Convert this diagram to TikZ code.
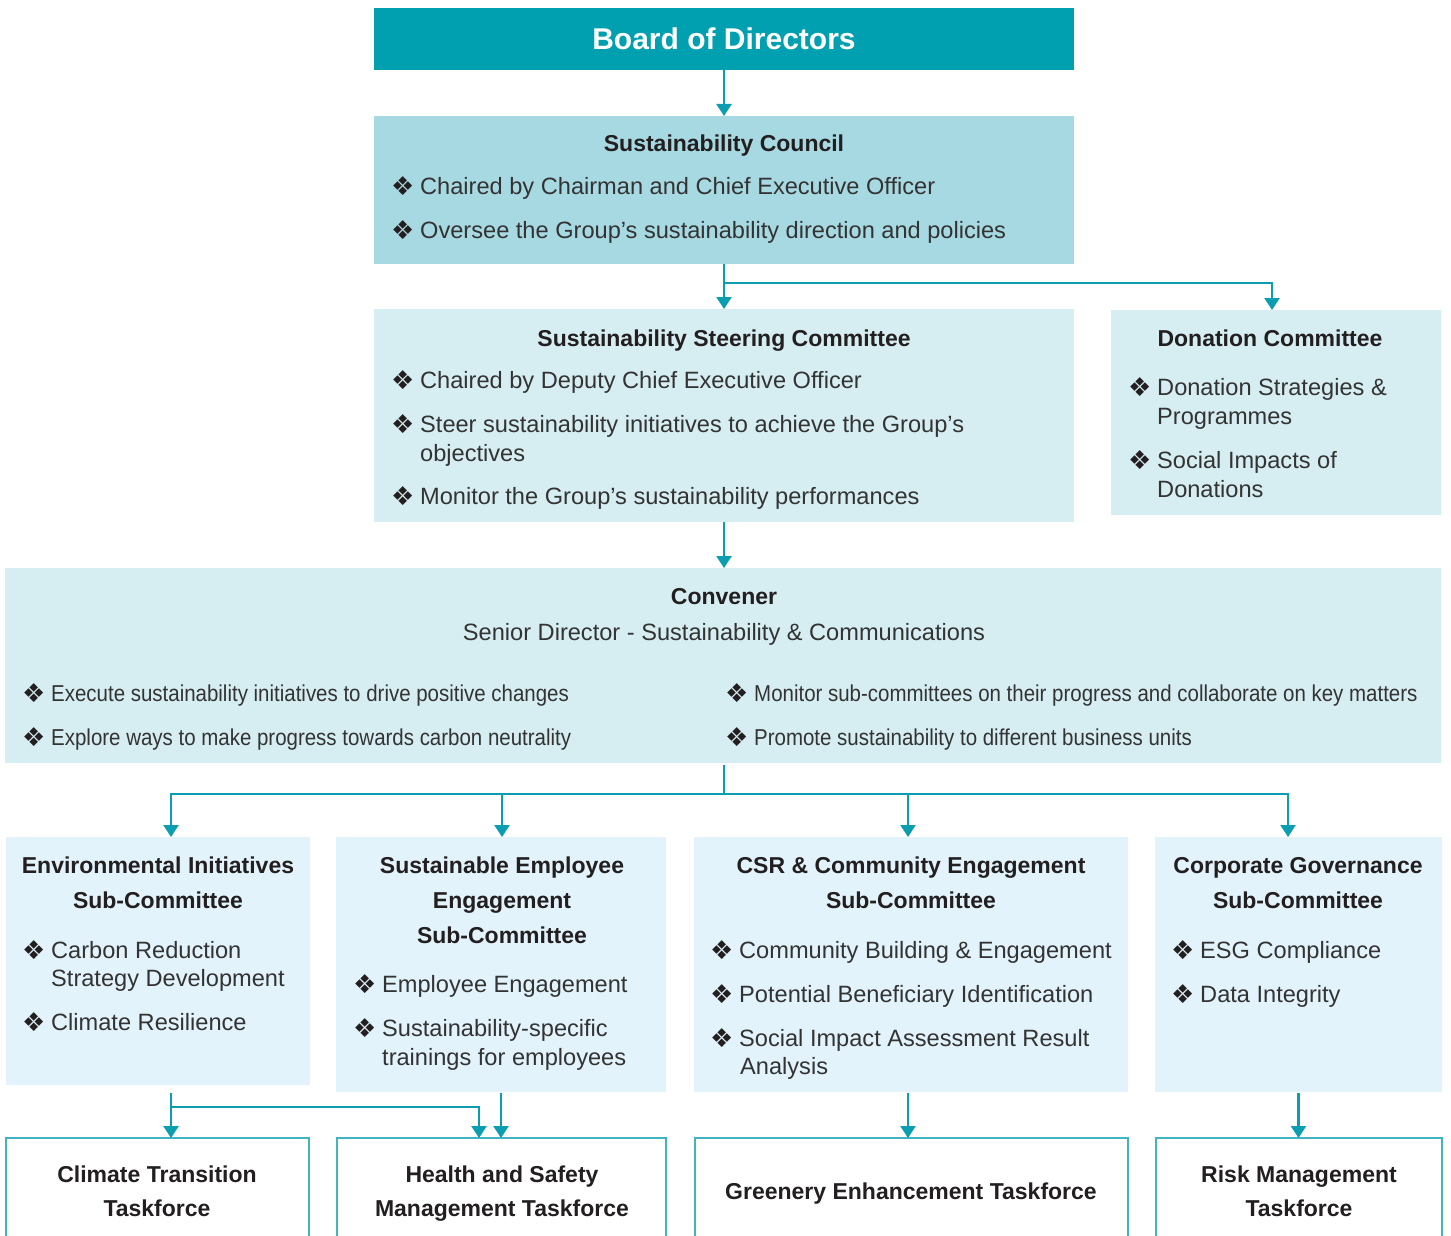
\documentclass[tikz,border=0pt]{standalone}
\usepackage{fontspec}
\usetikzlibrary{arrows.meta}
\setmainfont{Liberation Sans}
\newfontfamily\condfont[FakeStretch=0.89]{Liberation Sans}
\newfontfamily\symfont{DejaVu Sans}

\definecolor{boardfill}{HTML}{00A0B0}
\definecolor{councilfill}{HTML}{A7D9E2}
\definecolor{steerfill}{HTML}{D6EEF2}
\definecolor{subfill}{HTML}{E2F3FB}
\definecolor{linkcol}{HTML}{0A9EB0}
\definecolor{taskline}{HTML}{40B4C1}
\definecolor{ink}{HTML}{231F20}
\definecolor{bodyink}{HTML}{333333}

\newcommand{\bul}{\makebox[29pt][l]{\color{ink}\symfont\fontsize{26}{28}\selectfont\raisebox{-1pt}{❖}}}

\tikzset{
  panel/.style={anchor=north west, inner sep=0pt, outer sep=0pt, draw=none},
  taskbox/.style={anchor=north west, inner sep=0pt, outer sep=0pt, fill=white, draw=taskline, line width=1.6pt},
  arr/.style={draw=linkcol, line width=2.4pt, -{Triangle[width=15pt,length=12pt]}},
  link/.style={draw=linkcol, line width=2.4pt},
  head/.style={anchor=base, inner sep=0pt, text=ink, font=\fontsize{23}{27}\selectfont\bfseries},
  body/.style={anchor=base west, inner sep=0pt, text=bodyink, font=\fontsize{23.6}{28}\selectfont},
  cbody/.style={anchor=base west, inner sep=0pt, text=bodyink, font=\condfont\fontsize{23}{27}\selectfont},
}

\begin{document}
\begin{tikzpicture}[x=1pt,y=-1pt]
\useasboundingbox (0,0) rectangle (1451,1236);

% ---- boxes ----
\node[panel, fill=boardfill, minimum width=700pt, minimum height=62pt] (board) at (374,8) {};
\node[panel, fill=councilfill, minimum width=700pt, minimum height=148pt] (council) at (374,116) {};
\node[panel, fill=steerfill, minimum width=700pt, minimum height=213pt] (steer) at (374,309) {};
\node[panel, fill=steerfill, minimum width=330pt, minimum height=205pt] (donation) at (1111,310) {};
\node[panel, fill=steerfill, minimum width=1436pt, minimum height=195pt] (convener) at (5,568) {};
\node[panel, fill=subfill, minimum width=304pt, minimum height=248pt] (env) at (6,837) {};
\node[panel, fill=subfill, minimum width=330pt, minimum height=255pt] (see) at (336,837) {};
\node[panel, fill=subfill, minimum width=434pt, minimum height=255pt] (csr) at (694,837) {};
\node[panel, fill=subfill, minimum width=287pt, minimum height=255pt] (cg) at (1155,837) {};
\node[taskbox, minimum width=303pt, minimum height=120pt] (ct) at (6,1138) {};
\node[taskbox, minimum width=329pt, minimum height=120pt] (hs) at (337,1138) {};
\node[taskbox, minimum width=433pt, minimum height=120pt] (ge) at (695,1138) {};
\node[taskbox, minimum width=286pt, minimum height=120pt] (rm) at (1156,1138) {};

% ---- connectors ----
\draw[arr] (board.south) -- (council.north);
\draw[arr] (council.south) -- (steer.north);
\draw[arr] ([yshift=-19pt]council.south) -| ([xshift=-4pt]donation.north);
\draw[arr] (steer.south) -- (steer.south |- convener.north);
\draw[link] ([yshift=-2pt]convener.south -| steer.south) -- ++(0,29) coordinate (hub);
\draw[arr] (hub) -| ([xshift=13pt]env.north);
\draw[arr] (hub) -| ([xshift=1pt]see.north);
\draw[arr] (hub) -| ([xshift=-3pt]csr.north);
\draw[arr] (hub) -| ([xshift=-10.5pt]cg.north);
\draw[link] ([xshift=13pt,yshift=-8pt]env.south) -- ++(0,14) coordinate (envsplit);
\draw[arr] (envsplit) -- (envsplit |- ct.north);
\draw[arr] (envsplit) -| ([xshift=-22.5pt]hs.north);
\draw[arr] ([yshift=-1pt]see.south) -- (see.south |- hs.north);
\draw[arr] ([xshift=-3pt,yshift=-1pt]csr.south) -- ([xshift=-3pt]csr.south |- ge.north);
\draw[arr] ([yshift=-1pt]cg.south) -- (cg.south |- rm.north);

% ---- Board of Directors ----
\node[anchor=base, inner sep=0pt, text=white, font=\fontsize{30}{34}\selectfont\bfseries] (t-board) at (724,50) {Board of Directors};

% ---- Sustainability Council ----
\node[head] (t-council) at (724,152) {Sustainability Council};
\node[body] (council-a) at (391,194) {\bul Chaired by Chairman and Chief Executive Officer};
\node[body] (council-b) at (391,238) {\bul Oversee the Group’s sustainability direction and policies};

% ---- Steering Committee ----
\node[head] (t-steer) at (724,346) {Sustainability Steering Committee};
\node[body] (steer-a) at (391,388) {\bul Chaired by Deputy Chief Executive Officer};
\node[body] (steer-b) at (391,432) {\bul Steer sustainability initiatives to achieve the Group’s};
\node[body] (steer-b2) at (420,461) {objectives};
\node[body] (steer-c) at (391,504) {\bul Monitor the Group’s sustainability performances};

% ---- Donation Committee ----
\node[head] (t-donation) at (1270,346) {Donation Committee};
\node[body] (don-a) at (1128,395) {\bul Donation Strategies \&};
\node[body] (don-a2) at (1157,424) {Programmes};
\node[body] (don-b) at (1128,468) {\bul Social Impacts of};
\node[body] (don-b2) at (1157,497) {Donations};

% ---- Convener ----
\node[head] (t-convener) at (724,604) {Convener};
\node[anchor=base, inner sep=0pt, text=bodyink, font=\fontsize{23.6}{28}\selectfont] (t-role) at (724,640) {Senior Director - Sustainability \& Communications};
\node[cbody] (conv-a) at (22,701) {\bul Execute sustainability initiatives to drive positive changes};
\node[cbody] (conv-b) at (22,745) {\bul Explore ways to make progress towards carbon neutrality};
\node[cbody] (conv-c) at (725,701) {\bul Monitor sub-committees on their progress and collaborate on key matters};
\node[cbody] (conv-d) at (725,745) {\bul Promote sustainability to different business units};

% ---- Environmental Initiatives ----
\node[head] (t-env1) at (158,873) {Environmental Initiatives};
\node[head] (t-env2) at (158,908) {Sub-Committee};
\node[body] (env-a) at (22,958) {\bul Carbon Reduction};
\node[body] (env-a2) at (51,986) {Strategy Development};
\node[body] (env-b) at (22,1030) {\bul Climate Resilience};

% ---- Sustainable Employee Engagement ----
\node[head] (t-see1) at (502,873) {Sustainable Employee};
\node[head] (t-see2) at (502,908) {Engagement};
\node[head] (t-see3) at (502,943) {Sub-Committee};
\node[body] (see-a) at (353,992) {\bul Employee Engagement};
\node[body] (see-b) at (353,1036) {\bul Sustainability-specific};
\node[body] (see-b2) at (382,1065) {trainings for employees};

% ---- CSR & Community Engagement ----
\node[head] (t-csr1) at (911,873) {CSR \& Community Engagement};
\node[head] (t-csr2) at (911,908) {Sub-Committee};
\node[body] (csr-a) at (710,958) {\bul Community Building \& Engagement};
\node[body] (csr-b) at (710,1002) {\bul Potential Beneficiary Identification};
\node[body] (csr-c) at (710,1046) {\bul Social Impact Assessment Result};
\node[body] (csr-c2) at (740,1074) {Analysis};

% ---- Corporate Governance ----
\node[head] (t-cg1) at (1298,873) {Corporate Governance};
\node[head] (t-cg2) at (1298,908) {Sub-Committee};
\node[body] (cg-a) at (1171,958) {\bul ESG Compliance};
\node[body] (cg-b) at (1171,1002) {\bul Data Integrity};

% ---- Taskforces ----
\node[head] (t-ct1) at (157,1182) {Climate Transition};
\node[head] (t-ct2) at (157,1216) {Taskforce};
\node[head] (t-hs1) at (502,1182) {Health and Safety};
\node[head] (t-hs2) at (502,1216) {Management Taskforce};
\node[head] (t-ge) at (911,1199) {Greenery Enhancement Taskforce};
\node[head] (t-rm1) at (1299,1182) {Risk Management};
\node[head] (t-rm2) at (1299,1216) {Taskforce};
\end{tikzpicture}
\end{document}
